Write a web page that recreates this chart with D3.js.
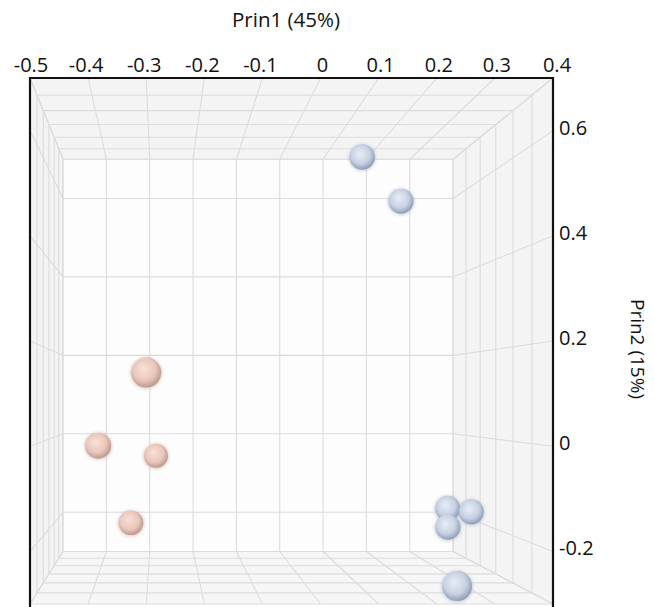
<!DOCTYPE html>
<html>
<head>
<meta charset="utf-8">
<script src="https://cdn.jsdelivr.net/npm/d3@7"></script>
<style>
  html, body { margin: 0; padding: 0; background: #fff; }
  svg text { font-family: "Open Sans", "Noto Sans", sans-serif; fill: #111; }
</style>
</head>
<body>
<svg id="chart" width="654" height="607"></svg>
<script>
// scores (prin3 = depth, larger is nearer the viewer)
const prin1 = [0.135, 0.221, -0.30, -0.399, -0.285, -0.337, 0.32, 0.366, 0.312, 0.235]
const prin2 = [0.633, 0.540, 0.14, -0.013, -0.046, -0.197, -0.161, -0.168, -0.20, -0.266]
const prin3 = [-0.02, -0.05, 0.30, 0.03, -0.14, -0.08, -0.06, -0.05, -0.03, 0.30]
const group = ['b', 'b', 'p', 'p', 'p', 'p', 'b', 'b', 'b', 'b']

const xTicks = [-0.5, -0.4, -0.3, -0.2, -0.1, 0, 0.1, 0.2, 0.3, 0.4]
const yTicks = [-0.2, 0, 0.2, 0.4, 0.6]
const zTicks = [-0.3, -0.2, -0.1, 0, 0.1, 0.2, 0.3]

const svg = d3.select('#chart')

// front face scales
const x = d3.scaleLinear().domain([-0.5, 0.4]).range([30, 553])
const y = d3.scaleLinear().domain([-0.3, 0.7]).range([604, 78])
// depth: 0 at the front face, 1 at the back wall
const z = d3.scaleLinear().domain([0.3, -0.3]).range([0, 1])

const A = 1 / 0.7457 - 1
const vp = [160, 397.5]
const proj = (px, py, pz) => {
  const s = 1 / (1 + A * z(pz))
  return [vp[0] + s * (x(px) - vp[0]), vp[1] + s * (y(py) - vp[1]), s]
}

const [x0, x1] = x.domain()
const [y0, y1] = y.domain()
const zf = 0.3, zb = -0.3

// walls
const poly = pts => 'M' + pts.map(p => p.slice(0, 2).join(',')).join('L') + 'Z'
const walls = svg.append('g')
walls.append('path').attr('d', poly([proj(x0, y1, zf), proj(x1, y1, zf), proj(x1, y1, zb), proj(x0, y1, zb)])).attr('fill', '#f4f4f4')
walls.append('path').attr('d', poly([proj(x0, y0, zf), proj(x1, y0, zf), proj(x1, y0, zb), proj(x0, y0, zb)])).attr('fill', '#f6f6f6')
walls.append('path').attr('d', poly([proj(x0, y0, zf), proj(x0, y1, zf), proj(x0, y1, zb), proj(x0, y0, zb)])).attr('fill', '#f3f3f3')
walls.append('path').attr('d', poly([proj(x1, y0, zf), proj(x1, y1, zf), proj(x1, y1, zb), proj(x1, y0, zb)])).attr('fill', '#f4f4f4')
walls.append('path').attr('d', poly([proj(x0, y0, zb), proj(x0, y1, zb), proj(x1, y1, zb), proj(x1, y0, zb)])).attr('fill', '#fdfdfd')

// grid lines
const segs = []
const yLines = [y0].concat(yTicks, [y1])
const zLines = zTicks
// back wall
xTicks.forEach(v => segs.push([proj(v, y0, zb), proj(v, y1, zb)]))
yLines.forEach(v => segs.push([proj(x0, v, zb), proj(x1, v, zb)]))
// ceiling and floor
;[y0, y1].forEach(yy => {
  xTicks.forEach(v => segs.push([proj(v, yy, zf), proj(v, yy, zb)]))
  zLines.forEach(v => segs.push([proj(x0, yy, v), proj(x1, yy, v)]))
})
// side walls
;[x0, x1].forEach(xx => {
  yLines.forEach(v => segs.push([proj(xx, v, zf), proj(xx, v, zb)]))
  zLines.forEach(v => segs.push([proj(xx, y0, v), proj(xx, y1, v)]))
})

svg.append('g')
  .selectAll('line')
  .data(segs)
  .join('line')
  .attr('x1', d => d[0][0]).attr('y1', d => d[0][1])
  .attr('x2', d => d[1][0]).attr('y2', d => d[1][1])
  .attr('stroke', '#dcdcdc')
  .attr('stroke-width', 1.1)

// sphere shading
const defs = svg.append('defs')
const shade = {
  p: ['#f9e0d6', '#eac7bb', '#b8958c'],
  b: ['#e8eef7', '#c8d1e2', '#8a99b2']
}
Object.entries(shade).forEach(([k, c]) => {
  const g = defs.append('radialGradient').attr('id', 'ball-' + k)
    .attr('cx', '45%').attr('cy', '42%').attr('r', '60%')
    .attr('fx', '40%').attr('fy', '36%')
  g.append('stop').attr('offset', '0%').attr('stop-color', c[0])
  g.append('stop').attr('offset', '62%').attr('stop-color', c[1])
  g.append('stop').attr('offset', '100%').attr('stop-color', c[2])
})
const blur = defs.append('filter').attr('id', 'glow').attr('x', '-50%').attr('y', '-50%').attr('width', '200%').attr('height', '200%')
blur.append('feGaussianBlur').attr('stdDeviation', 1.6)

const pts = prin1.map((v, i) => {
  const p = proj(v, prin2[i], prin3[i])
  return { cx: p[0], cy: p[1], r: 15 * p[2], depth: z(prin3[i]), g: group[i] }
}).sort((a, b) => b.depth - a.depth)

const balls = svg.append('g')
balls.selectAll('circle.halo')
  .data(pts)
  .join('circle')
  .attr('class', 'halo')
  .attr('cx', d => d.cx).attr('cy', d => d.cy + 0.5).attr('r', d => d.r + 1)
  .attr('fill', d => d.g === 'p' ? '#c9aaa0' : '#a7b2c6')
  .attr('opacity', 0.5)
  .attr('filter', 'url(#glow)')
balls.selectAll('circle.ball')
  .data(pts)
  .join('circle')
  .attr('class', 'ball')
  .attr('cx', d => d.cx).attr('cy', d => d.cy).attr('r', d => d.r)
  .attr('fill', d => `url(#ball-${d.g})`)

// front frame (left, top, right)
svg.append('path')
  .attr('d', `M${x(x0)},607V${y(y1)}H${x(x1)}V607`)
  .attr('fill', 'none')
  .attr('stroke', '#111')
  .attr('stroke-width', 2.2)

// top axis labels
svg.append('g')
  .selectAll('text')
  .data(xTicks)
  .join('text')
  .attr('x', d => x(d) + (d < 0 ? -2 : 2) + (d === x0 ? 3 : 0) + (d === x1 ? 2 : 0))
  .attr('y', 72)
  .attr('text-anchor', 'middle')
  .attr('font-size', 20)
  .text(d => String(d))

svg.append('text')
  .attr('x', 286).attr('y', 27)
  .attr('text-anchor', 'middle')
  .attr('font-size', 20.5)
  .text('Prin1 (45%)')

// right axis labels
svg.append('g')
  .selectAll('text')
  .data(yTicks)
  .join('text')
  .attr('x', 559)
  .attr('y', d => y(d) - 3)
  .attr('dy', '0.35em')
  .attr('font-size', 20)
  .text(d => String(d))

svg.append('text')
  .attr('transform', 'translate(631,349) rotate(90)')
  .attr('text-anchor', 'middle')
  .attr('font-size', 19)
  .text('Prin2 (15%)')
</script>
</body>
</html>
